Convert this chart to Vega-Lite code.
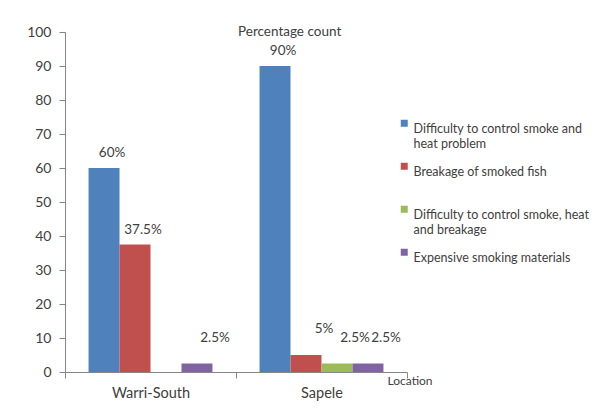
{
  "$schema": "https://vega.github.io/schema/vega-lite/v6.json",
  "width": 342,
  "height": 340,
  "autosize": "none",
  "padding": {"left": 65, "top": 32, "right": 191, "bottom": 42},
  "background": "white",
  "config": {
    "font": "Lato",
    "view": {"stroke": null},
    "axis": {"domainColor": "#868686", "tickColor": "#868686", "labelColor": "#404040", "labelFontSize": 14, "grid": false}
  },
  "title": {"text": "Percentage count", "anchor": "start", "frame": "group", "dx": 173, "offset": -20, "baseline": "middle", "fontSize": 13.5, "fontWeight": "normal", "color": "#404040", "font": "Lato"},
  "data": {
    "values": [
      {"location": "Warri-South", "problem": "Difficulty to control smoke and heat problem", "pct": 60, "label": "60%"},
      {"location": "Warri-South", "problem": "Breakage of smoked fish", "pct": 37.5, "label": "37.5%"},
      {"location": "Warri-South", "problem": "Difficulty to control smoke, heat and breakage", "pct": 0, "label": ""},
      {"location": "Warri-South", "problem": "Expensive smoking materials", "pct": 2.5, "label": "2.5%"},
      {"location": "Sapele", "problem": "Difficulty to control smoke and heat problem", "pct": 90, "label": "90%"},
      {"location": "Sapele", "problem": "Breakage of smoked fish", "pct": 5, "label": "5%"},
      {"location": "Sapele", "problem": "Difficulty to control smoke, heat and breakage", "pct": 2.5, "label": "2.5%"},
      {"location": "Sapele", "problem": "Expensive smoking materials", "pct": 2.5, "label": "2.5%"}
    ]
  },
  "encoding": {
    "x": {
      "field": "location", "type": "nominal", "sort": ["Warri-South", "Sapele"],
      "scale": {"paddingInner": 0, "paddingOuter": 0},
      "axis": {"title": "Location", "labelAngle": 0, "tickBand": "extent", "tickSize": 6, "labelPadding": 8, "labelFontSize": 14.5,
               "titleAnchor": "start", "titleX": 322, "titleY": 8, "titleBaseline": "middle", "titleFontWeight": "normal", "titleFontSize": 12, "titleColor": "#404040"}
    },
    "xOffset": {
      "field": "problem", "type": "nominal",
      "sort": ["Difficulty to control smoke and heat problem", "Breakage of smoked fish", "Difficulty to control smoke, heat and breakage", "Expensive smoking materials"],
      "scale": {"paddingInner": 0, "paddingOuter": 0.76}
    },
    "y": {
      "field": "pct", "type": "quantitative",
      "scale": {"domain": [0, 100]},
      "axis": {"title": null, "values": [0, 10, 20, 30, 40, 50, 60, 70, 80, 90, 100], "tickSize": 6, "labelPadding": 8}
    }
  },
  "layer": [
    {
      "mark": {"type": "bar"},
      "encoding": {
        "color": {
          "field": "problem", "type": "nominal",
          "sort": ["Difficulty to control smoke and heat problem", "Breakage of smoked fish", "Difficulty to control smoke, heat and breakage", "Expensive smoking materials"],
          "scale": {"range": ["#4F81BD", "#C0504D", "#9BBB59", "#8064A2"]},
          "legend": {
            "title": null, "orient": "none", "legendX": 333, "legendY": 85,
            "symbolType": "square", "symbolSize": 49, "symbolStrokeWidth": 0,
            "labelFontSize": 12.5, "labelColor": "#404040", "labelBaseline": "top", "labelOffset": 3,
            "rowPadding": 9, "labelLimit": 300,
            "labelExpr": "datum.label == 'Difficulty to control smoke and heat problem' ? ['Difficulty to control smoke and', 'heat problem'] : datum.label == 'Difficulty to control smoke, heat and breakage' ? ['Difficulty to control smoke, heat', 'and breakage'] : [datum.label, '']"
          }
        }
      }
    },
    {
      "transform": [{"filter": "datum.pct >= 20"}],
      "mark": {"type": "text", "baseline": "bottom", "dy": -8, "dx": 8, "fontSize": 13.5, "color": "#404040"},
      "encoding": {"text": {"field": "label"}}
    },
    {
      "transform": [{"filter": "datum.pct < 20 && datum.pct > 0"}],
      "mark": {"type": "text", "baseline": "bottom", "dy": -19, "dx": 18, "fontSize": 13.5, "color": "#404040"},
      "encoding": {"text": {"field": "label"}}
    }
  ]
}
